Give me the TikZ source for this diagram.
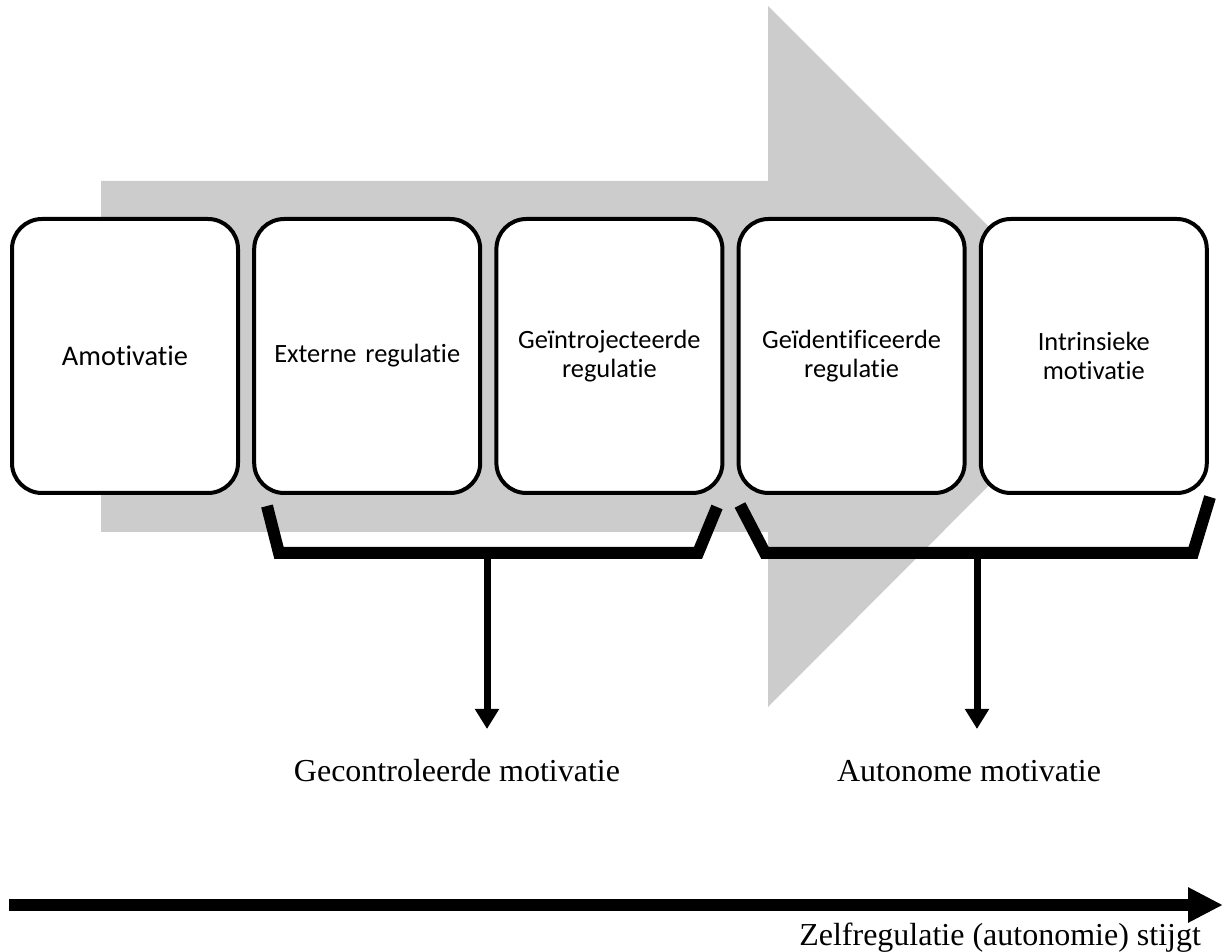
\documentclass[tikz,border=0pt]{standalone}
\usepackage{fontspec}
\setmainfont{Liberation Serif}
\newfontfamily\boxfont[Ligatures=NoCommon]{Carlito}
\usetikzlibrary{positioning,calc,arrows.meta}
\definecolor{arrowgrey}{gray}{0.8}
\tikzset{
  box/.style={draw, line width=2pt, rounded corners=15pt, fill=white,
    minimum width=113pt, minimum height=137pt, outer sep=0pt, inner xsep=2pt,
    text width=104pt, align=center, font=\boxfont\fontsize{13.2}{14.8}\selectfont},
  bracket/.style={line width=6pt},
  pointer/.style={line width=3.5pt, -{Triangle[length=10pt,width=11.5pt]}},
  grouptext/.style={font=\fontsize{16}{19}\selectfont, anchor=base},
}
\begin{document}
\begin{tikzpicture}[x=0.5pt,y=-0.5pt]
    \useasboundingbox (0,0) rectangle (1223,952);

    % big grey arrow behind the boxes
    \fill[arrowgrey] (101,181) -- (768,181) -- (768,6) -- (1118,356)
        -- (768,707) -- (768,532) -- (101,532) -- cycle;

    % the five kinds of motivation
    \node[box, font=\boxfont\fontsize{14.2}{16}\selectfont] (amot) at (125,356) {Amotivatie};
    \node[box, right=8.1pt of amot] (extern) {Externe regulatie};
    \node[box, right=8.1pt of extern] (introj) {Geïntrojecteerde\\regulatie};
    \node[box, right=8.1pt of introj] (ident) {Geïdentificeerde\\regulatie};
    \node[box, right=8.1pt of ident] (intrin) {Intrinsieke\\motivatie};

    % brackets under the boxes
    \draw[bracket] (267,506) -- (279,553) -- (698,553) -- (717,507);
    \draw[bracket] (740,505) -- (765,553) -- (1193,553) -- (1210,497);

    \coordinate (ctrlfoot) at (487,553);
    \coordinate (ctrltip) at (487,729);
    \coordinate (autofoot) at (977,553);
    \coordinate (autotip) at (977,729);
    \draw[pointer] (ctrlfoot) -- (ctrltip);
    \draw[pointer] (autofoot) -- (autotip);

    \node[grouptext] (ctrl) at (457,782) {Gecontroleerde motivatie};
    \node[grouptext] (auto) at (969,782) {Autonome motivatie};

    % scale at the bottom
    \coordinate (scalestart) at (9,905);
    \coordinate (scaleend) at (1223,905);
    \draw[line width=6pt, -{Triangle[length=17.5pt,width=16.5pt]}] (scalestart) -- (scaleend);
    \node[grouptext, anchor=base east] (scale) at (1208,945) {Zelfregulatie (autonomie) stijgt};
\end{tikzpicture}
\end{document}
